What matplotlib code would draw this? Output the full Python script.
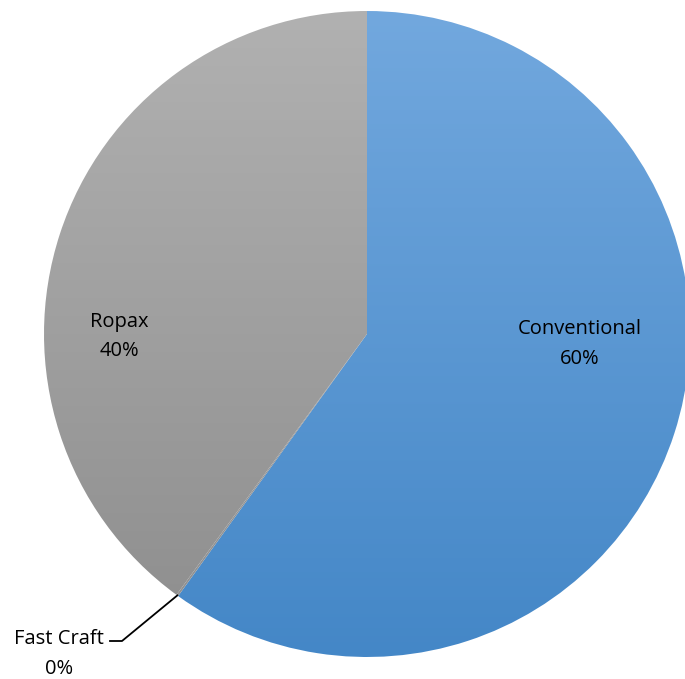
import numpy as np
import matplotlib.pyplot as plt
from matplotlib.colors import LinearSegmentedColormap

# data
categories = ["Conventional", "Fast Craft", "Ropax"]
shares = [60.0, 0.1, 40.0]
pct_labels = ["60%", "0%", "40%"]

# gradient colours per slice (top -> bottom)
grads = [("#72a8de", "#4487c7"), ("#a0a0a0", "#909090"), ("#b1b1b1", "#8d8d8d")]

W, H = 685, 679
cx, cy, r = 367, H - 334, 323

fig = plt.figure(figsize=(W / 100, H / 100), dpi=100)
ax = fig.add_axes([0, 0, 1, 1])

wedges, _ = ax.pie(shares, startangle=90, counterclock=False, center=(cx, cy), radius=r,
                   wedgeprops=dict(linewidth=0, edgecolor="none"), frame=False)

grad = np.linspace(0, 1, 256).reshape(-1, 1)
for w, (c_top, c_bot) in zip(wedges, grads):
    w.set_facecolor("none")
    cmap = LinearSegmentedColormap.from_list("g", [c_bot, c_top])
    im = ax.imshow(grad, cmap=cmap, origin="lower", aspect="auto",
                   extent=[cx - r, cx + r, cy - r, cy + r], interpolation="bilinear", zorder=1)
    im.set_clip_path(w)

ax.set_xlim(0, W)
ax.set_ylim(0, H)
ax.set_aspect("equal")
ax.axis("off")

font = dict(family=["Open Sans", "DejaVu Sans"], fontsize=14.5, color="#000000",
            ha="center", va="center", linespacing=1.6)

# label positions in pixel space (y measured from top)
label_pos = [(580, 344), (59, 654), (119, 337)]
for i, (name, pct) in enumerate(zip(categories, pct_labels)):
    x, y = label_pos[i]
    ax.text(x, H - y, name + "\n" + pct, zorder=5, **font)

# leader line for the tiny slice
ang = np.deg2rad(wedges[1].theta1 + wedges[1].theta2) / 2
px, py = cx + r * np.cos(ang), cy + r * np.sin(ang)
ax.plot([px, 122, 110], [py, H - 641, H - 641], color="black", lw=1.3, zorder=4)

fig.savefig("out.png", dpi=100, facecolor="white")
